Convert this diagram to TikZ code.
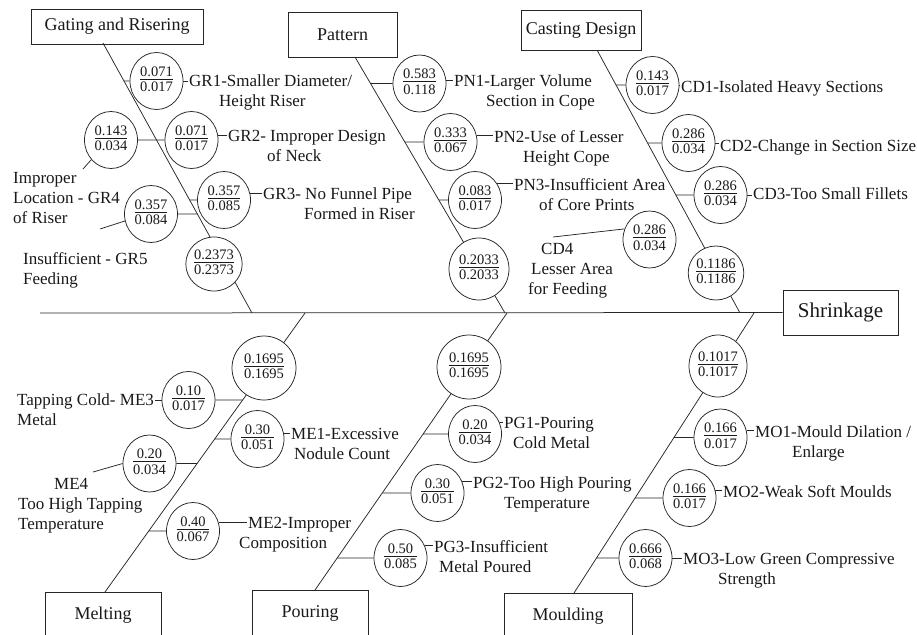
\documentclass[tikz,border=0pt]{standalone}
\usepackage{fontspec}
\setmainfont{Liberation Serif}
\usetikzlibrary{shapes.geometric,backgrounds}
\setlength{\arrayrulewidth}{0.6pt}
\newcommand{\frc}[2]{\begin{tabular}{@{}c@{}}#1\\[-2pt]\hline\rule{0pt}{12pt}#2\end{tabular}}
\tikzset{
  ln/.style={line width=0.75pt, draw=black!85},
  catbox/.style={draw=black!85, line width=0.8pt, inner sep=0pt, text=black!90,
    font=\fontsize{18}{20}\selectfont},
  val/.style={ellipse, draw=black!85, line width=0.75pt, fill=white, inner sep=0pt,
    minimum width=53pt, minimum height=57pt, text=black!90,
    font=\fontsize{14.5}{15}\selectfont},
  lab/.style={anchor=north west, align=left, inner sep=1pt, text=black!90,
    font=\fontsize{17}{20}\selectfont},
}
\begin{document}
\begin{tikzpicture}[x=1pt,y=-1pt]
\useasboundingbox (0,0) rectangle (917,634);

% category boxes
\node[catbox, minimum width=172pt, minimum height=35pt] (gating) at (117,26.5) {Gating and Risering};
\node[catbox, minimum width=109pt, minimum height=45pt] (pattern) at (342.5,34.5) {Pattern};
\node[catbox, minimum width=120pt, minimum height=40pt] (casting) at (581,30) {Casting Design};
\node[catbox, minimum width=115pt, minimum height=45pt, font=\fontsize{21}{24}\selectfont] (shrink) at (840.5,312.5) {Shrinkage};
\node[catbox, minimum width=116pt, minimum height=46pt] (melting) at (103,615) {Melting};
\node[catbox, minimum width=116pt, minimum height=46pt] (pouring) at (310,613) {Pouring};
\node[catbox, minimum width=128pt, minimum height=46pt] (moulding) at (568,616) {Moulding};

% bone end points
\coordinate (spL) at (40,313);
\coordinate (gT) at (103,43);  \coordinate (gB) at (252,313);
\coordinate (pT) at (355,57);  \coordinate (pB) at (505,313);
\coordinate (cT) at (597,50);  \coordinate (cB) at (740,313);
\coordinate (mT) at (105,592); \coordinate (mB) at (305,313);
\coordinate (oT) at (315,590); \coordinate (oB) at (507,313);
\coordinate (uT) at (574,593); \coordinate (uB) at (754,313);

% value circles
\node[val] (gr1) at (156.5,81) {\frc{0.071}{0.017}};
\node[val] (gr2) at (191.5,140) {\frc{0.071}{0.017}};
\node[val] (gr4) at (111,140) {\frc{0.143}{0.034}};
\node[val] (gr3) at (224,200) {\frc{0.357}{0.085}};
\node[val] (gr5) at (151,214) {\frc{0.357}{0.084}};
\node[val, minimum width=50pt, minimum height=54pt] (sg) at (214,264) {\frc{0.2373}{0.2373}};

\node[val] (pn1) at (419.5,83.5) {\frc{0.583}{0.118}};
\node[val] (pn2) at (450.5,142) {\frc{0.333}{0.067}};
\node[val] (pn3) at (475,200) {\frc{0.083}{0.017}};
\node[val, minimum width=60pt, minimum height=62pt] (sp) at (479,269) {\frc{0.2033}{0.2033}};

\node[val] (cd1) at (652.5,85) {\frc{0.143}{0.017}};
\node[val] (cd2) at (688.5,143) {\frc{0.286}{0.034}};
\node[val] (cd3) at (720.5,195) {\frc{0.286}{0.034}};
\node[val] (cd4) at (649.5,239.5) {\frc{0.286}{0.034}};
\node[val, minimum width=50pt, minimum height=54pt] (sc) at (716,273) {\frc{0.1186}{0.1186}};

\node[val] (me3) at (188.5,400) {\frc{0.10}{0.017}};
\node[val] (me1) at (257.5,439) {\frc{0.30}{0.051}};
\node[val] (me4) at (149.5,463.5) {\frc{0.20}{0.034}};
\node[val] (me2) at (193,531) {\frc{0.40}{0.067}};
\node[val, minimum width=64pt, minimum height=64pt] (sm) at (264,368) {\frc{0.1695}{0.1695}};

\node[val] (pg1) at (475,434) {\frc{0.20}{0.034}};
\node[val] (pg2) at (437.5,493) {\frc{0.30}{0.051}};
\node[val] (pg3) at (400.5,558) {\frc{0.50}{0.085}};
\node[val, minimum width=64pt, minimum height=64pt] (so) at (469,367) {\frc{0.1695}{0.1695}};

\node[val] (mo1) at (720.5,437.5) {\frc{0.166}{0.017}};
\node[val] (mo2) at (689.5,498) {\frc{0.166}{0.017}};
\node[val] (mo3) at (645.5,558) {\frc{0.666}{0.068}};
\node[val, minimum width=58pt, minimum height=62pt] (su) at (718,366) {\frc{0.1017}{0.1017}};

% labels
\node[lab] (lgr1) at (188,74) {GR1-Smaller Diameter/\\\hspace*{30pt}Height Riser};
\node[lab] (lgr2) at (227,129) {GR2- Improper Design\\\hspace*{39pt}of Neck};
\node[lab] (lgr3) at (262,187) {GR3- No Funnel Pipe\\\hspace*{41pt}Formed in Riser};
\node[lab] (lgr4) at (12,171) {Improper\\Location - GR4\\of Riser};
\node[lab] (lgr5) at (22,251) {Insufficient - GR5\\Feeding};
\node[lab] (lpn1) at (453,74) {PN1-Larger Volume\\\hspace*{32pt}Section in Cope};
\node[lab] (lpn2) at (493,129) {PN2-Use of Lesser\\\hspace*{29pt}Height Cope};
\node[lab] (lpn3) at (513,177) {PN3-Insufficient Area\\\hspace*{25pt}of Core Prints};
\node[lab] (lcd1) at (680,80) {CD1-Isolated Heavy Sections};
\node[lab] (lcd2) at (719,139) {CD2-Change in Section Size};
\node[lab] (lcd3) at (752,187) {CD3-Too Small Fillets};
\node[lab] (lcd4) at (527,242) {\hspace*{13pt}CD4\\\hspace*{3pt}Lesser Area\\for Feeding};
\node[lab] (lme3) at (16,392) {Tapping Cold- ME3\\Metal};
\node[lab] (lme1) at (290,427) {ME1-Excessive\\\hspace*{3pt}Nodule Count};
\node[lab] (lme4) at (17,477) {\hspace*{36pt}ME4\\Too High Tapping\\Temperature};
\node[lab] (lme2) at (247,516) {ME2-Improper\\\hspace*{-9pt}Composition};
\node[lab] (lpg1) at (503,416) {PG1-Pouring\\\hspace*{9pt}Cold Metal};
\node[lab] (lpg2) at (472,475) {PG2-Too High Pouring\\\hspace*{31pt}Temperature};
\node[lab] (lpg3) at (433,539) {PG3-Insufficient\\\hspace*{5pt}Metal Poured};
\node[lab] (lmo1) at (754,424) {MO1-Mould Dilation /\\\hspace*{37pt}Enlarge};
\node[lab] (lmo2) at (722,484) {MO2-Weak Soft Moulds};
\node[lab] (lmo3) at (682,552) {MO3-Low Green Compressive\\\hspace*{35pt}Strength};

% free ends of slanted ticks
\coordinate (t4) at (83,169);
\coordinate (t5) at (100,229);
\coordinate (t6) at (93,472);
\coordinate (t7) at (553,237);

\begin{scope}[on background layer]
  % spine and bones
  \draw[ln] (spL) -- (shrink.west);
  \draw[ln] (gT) -- (gB);
  \draw[ln] (pT) -- (pB);
  \draw[ln] (cT) -- (cB);
  \draw[ln] (mT) -- (mB);
  \draw[ln] (oT) -- (oB);
  \draw[ln] (uT) -- (uB);
  % stubs
  \draw[ln] (intersection of gT--gB and gr1.west--gr1.east) -- (gr1.west);
  \draw[ln] (intersection of gT--gB and gr2.west--gr2.east) -- (gr2.west);
  \draw[ln] (gr4.east) -- (intersection of gT--gB and gr4.west--gr4.east);
  \draw[ln] (intersection of gT--gB and gr3.west--gr3.east) -- (gr3.west);
  \draw[ln] (gr5.east) -- (intersection of gT--gB and gr5.west--gr5.east);
  \draw[ln] (intersection of pT--pB and pn1.west--pn1.east) -- (pn1.west);
  \draw[ln] (intersection of pT--pB and pn2.west--pn2.east) -- (pn2.west);
  \draw[ln] (intersection of pT--pB and pn3.west--pn3.east) -- (pn3.west);
  \draw[ln] (intersection of cT--cB and cd1.west--cd1.east) -- (cd1.west);
  \draw[ln] (intersection of cT--cB and cd2.west--cd2.east) -- (cd2.west);
  \draw[ln] (intersection of cT--cB and cd3.west--cd3.east) -- (cd3.west);
  \draw[ln] (me3.east) -- (intersection of mT--mB and me3.west--me3.east);
  \draw[ln] (intersection of mT--mB and me1.west--me1.east) -- (me1.west);
  \draw[ln] (me4.east) -- (intersection of mT--mB and me4.west--me4.east);
  \draw[ln] (intersection of mT--mB and me2.west--me2.east) -- (me2.west);
  \draw[ln] (intersection of oT--oB and pg1.west--pg1.east) -- (pg1.west);
  \draw[ln] (intersection of oT--oB and pg2.west--pg2.east) -- (pg2.west);
  \draw[ln] (intersection of oT--oB and pg3.west--pg3.east) -- (pg3.west);
  \draw[ln] (intersection of uT--uB and mo1.west--mo1.east) -- (mo1.west);
  \draw[ln] (intersection of uT--uB and mo2.west--mo2.east) -- (mo2.west);
  \draw[ln] (intersection of uT--uB and mo3.west--mo3.east) -- (mo3.west);
  % label ticks
  \draw[ln] (gr1.east) -- (gr1.east -| lgr1.west);
  \draw[ln] (gr2.10) -- (gr2.10 -| lgr2.west);
  \draw[ln] (gr3.15) -- (gr3.15 -| lgr3.west);
  \draw[ln] (gr4.225) -- (t4);
  \draw[ln] (gr5.195) -- (t5);
  \draw[ln] (pn1.7) -- (pn1.7 -| lpn1.west);
  \draw[ln] (pn2.15) -- (pn2.15 -| lpn2.west);
  \draw[ln] (pn3.37) -- (pn3.37 -| lpn3.west);
  \draw[ln] (cd1.east) -- (cd1.east -| lcd1.west);
  \draw[ln] (cd2.east) -- (cd2.east -| lcd2.west);
  \draw[ln] (cd3.east) -- (cd3.east -| lcd3.west);
  \draw[ln] (cd4.157) -- (t7);
  \draw[ln] (me3.west) -- (me3.west -| lme3.east);
  \draw[ln] (me1.12) -- (me1.12 -| lme1.west);
  \draw[ln] (me4.west) -- (t6);
  \draw[ln] (me2.19) -- (me2.19 -| lme2.west);
  \draw[ln] (pg1.25) -- (pg1.25 -| lpg1.west);
  \draw[ln] (pg2.25) -- (pg2.25 -| lpg2.west);
  \draw[ln] (pg3.28) -- (pg3.28 -| lpg3.west);
  \draw[ln] (mo1.15) -- (mo1.15 -| lmo1.west);
  \draw[ln] (mo2.17) -- (mo2.17 -| lmo2.west);
  \draw[ln] (mo3.east) -- (mo3.east -| lmo3.west);
\end{scope}
\end{tikzpicture}
\end{document}
